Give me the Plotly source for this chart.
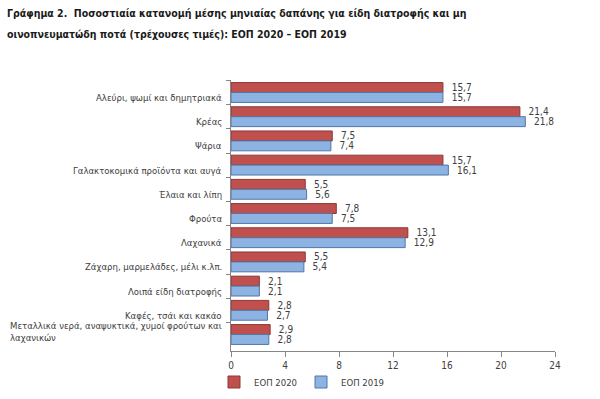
import plotly.graph_objects as go

categories = [
    "Αλεύρι, ψωμί και δημητριακά",
    "Κρέας",
    "Ψάρια",
    "Γαλακτοκομικά προϊόντα και αυγά",
    "Έλαια και λίπη",
    "Φρούτα",
    "Λαχανικά",
    "Ζάχαρη, μαρμελάδες, μέλι κ.λπ.",
    "Λοιπά είδη διατροφής",
    "Καφές, τσάι και κακάο",
    "Μεταλλικά νερά, αναψυκτικά, χυμοί φρούτων και<br>λαχανικών",
]
eop2020 = [15.7, 21.4, 7.5, 15.7, 5.5, 7.8, 13.1, 5.5, 2.1, 2.8, 2.9]
eop2019 = [15.7, 21.8, 7.4, 16.1, 5.6, 7.5, 12.9, 5.4, 2.1, 2.7, 2.8]
x_ticks = [0, 4, 8, 12, 16, 20, 24]

FONT = "DejaVu Sans Condensed, Liberation Sans, sans-serif"
TXT = "#404040"

L, R, T, B, W, H = 231, 45, 80, 48, 600, 399
PW, PH = W - L - R, H - T - B


def px_x(px):
    return (px - L) / PW


def px_y(py):
    return (H - B - py) / PH


fig = go.Figure()
fig.add_trace(go.Bar(
    y=categories, x=eop2020, orientation="h", name="ΕΟΠ 2020",
    marker=dict(color="#C0504D", line=dict(color="#8C3836", width=1)),
    texttemplate="  %{x:.1f}", textposition="outside", cliponaxis=False,
    constraintext="none",
    textfont=dict(size=10, color=TXT, family=FONT),
))
fig.add_trace(go.Bar(
    y=categories, x=eop2019, orientation="h", name="ΕΟΠ 2019",
    marker=dict(color="#8DB3E2", line=dict(color="#4F76A8", width=1)),
    texttemplate="  %{x:.1f}", textposition="outside", cliponaxis=False,
    constraintext="none",
    textfont=dict(size=10, color=TXT, family=FONT),
))

annotations = []
for i, c in enumerate(categories):
    multi = "<br>" in c
    annotations.append(dict(
        x=0, xref="paper", xanchor="right", xshift=-7,
        y=c, yref="y", yanchor="middle",
        yshift=3 if multi else -5,
        text=c, showarrow=False, align="left" if multi else "right",
        font=dict(size=9.5, color=TXT, family=FONT),
    ))

annotations.append(dict(
    xref="paper", yref="paper", x=px_x(5), y=px_y(13),
    xanchor="left", yanchor="middle", showarrow=False, align="left",
    text="<b>Γράφημα 2.  Ποσοστιαία κατανομή μέσης μηνιαίας δαπάνης για είδη διατροφής και μη</b>",
    font=dict(size=10.5, color="#1a1a1a", family=FONT),
))
annotations.append(dict(
    xref="paper", yref="paper", x=px_x(5), y=px_y(34),
    xanchor="left", yanchor="middle", showarrow=False, align="left",
    text="<b>οινοπνευματώδη ποτά (τρέχουσες τιμές): ΕΟΠ 2020 – ΕΟΠ 2019</b>",
    font=dict(size=10.5, color="#1a1a1a", family=FONT),
))

fig.update_layout(
    width=W, height=H,
    margin=dict(l=L, r=R, t=T, b=B, autoexpand=False),
    paper_bgcolor="white", plot_bgcolor="white",
    barmode="group", bargap=0.18, bargroupgap=0.0,
    separators=",.",
    font=dict(family=FONT, color=TXT, size=10),
    showlegend=True,
    legend=dict(orientation="h", x=px_x(214), xanchor="left", y=px_y(382), yanchor="middle",
                bgcolor="rgba(0,0,0,0)",
                font=dict(size=9.5, color=TXT, family=FONT), traceorder="normal",
                itemwidth=30, entrywidth=42, entrywidthmode="pixels"),
    annotations=annotations,
)
fig.update_xaxes(
    range=[0, 24], tickvals=x_ticks, showgrid=False, zeroline=False,
    showline=True, linecolor="#868686", linewidth=1,
    ticks="outside", ticklen=5, tickcolor="#868686",
    tickfont=dict(size=10, color=TXT, family=FONT),
)
fig.update_yaxes(
    autorange="reversed", showgrid=False, showticklabels=False,
    showline=True, linecolor="#868686", linewidth=1,
    ticks="outside", ticklen=4, tickcolor="#868686", tickson="boundaries",
)

fig.write_html(
    "out.html",
    config={"displayModeBar": False},
    post_script="document.body.style.margin='0';document.body.style.overflow='hidden';",
)
